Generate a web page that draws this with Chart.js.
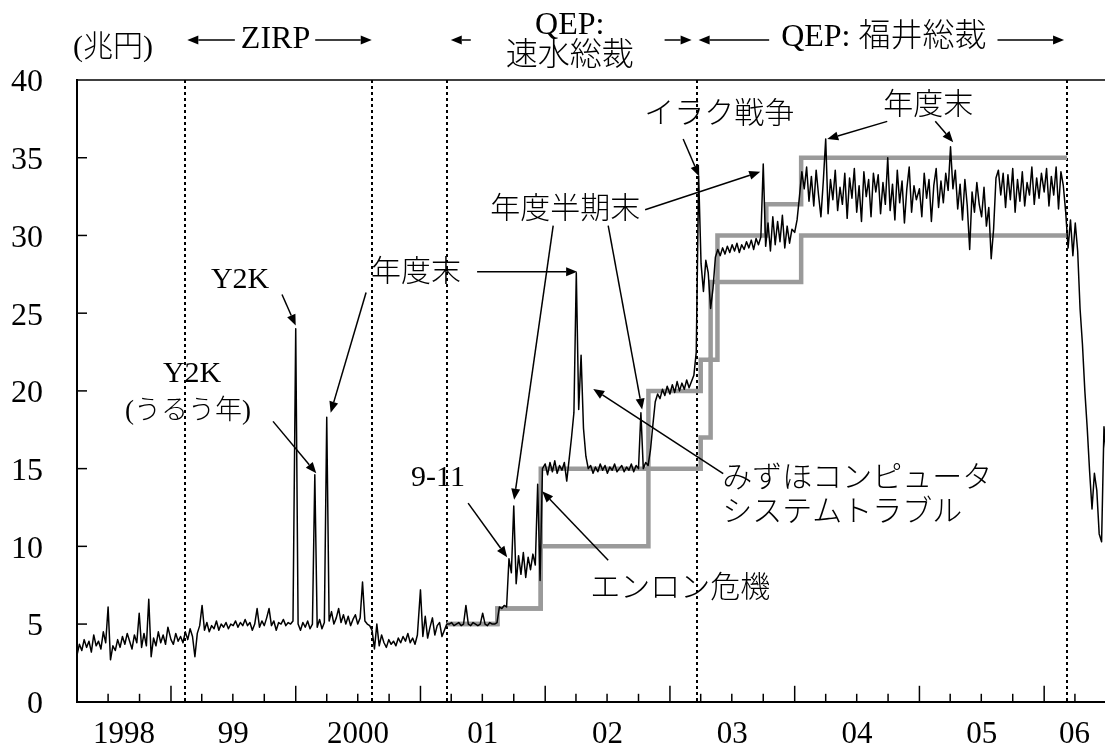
<!DOCTYPE html>
<html>
<head>
<meta charset="utf-8">
<script src="https://cdn.jsdelivr.net/npm/chart.js@4.4.1/dist/chart.umd.min.js"></script>
<style>
  body { margin: 0; background: #fff; }
</style>
</head>
<body>
<canvas id="grafico" width="1105" height="755"></canvas>
<script>
// 日銀当座預金残高（兆円）, valores semanales
// 1998 empieza el 1 de abril, los demás años el 1 de enero
const bal1998 = [3.0, 3.7, 3.3, 4.0, 3.5, 3.9, 3.2, 4.3, 3.6, 3.9, 3.4, 4.5, 3.8, 6.1, 2.7, 3.6, 3.3, 4.0, 3.5, 4.2,
  3.7, 4.4, 3.9, 3.4, 4.3, 3.8, 5.7, 3.5, 4.4, 3.6, 6.6, 2.9, 4.1, 3.6, 4.5, 3.8, 4.3, 3.7, 4.8];
const bal1999 = [4.0, 3.7, 4.4, 3.9, 4.2, 3.8, 4.5, 4.0, 4.7, 4.2, 2.9, 4.4, 4.9, 6.2, 4.6, 5.1, 4.5, 4.9, 4.7, 5.2,
  4.6, 5.0, 4.8, 5.1, 4.7, 5.0, 4.9, 5.2, 4.8, 5.1, 4.9, 5.3, 4.9, 5.1, 4.6, 5.0, 6.0, 4.8, 5.2, 4.9,
  5.4, 6.0, 4.9, 5.2, 4.6, 5.1, 5.0, 5.3, 4.9, 5.1, 5.0, 5.2];
const bal2000 = [24.0, 5.0, 4.6, 5.1, 4.8, 5.2, 4.7, 5.0, 14.6, 4.8, 5.3, 4.7, 5.1, 18.3, 5.2, 5.8, 5.0, 5.4, 6.0, 5.1,
  5.6, 5.0, 5.5, 4.9, 5.3, 5.6, 5.0, 5.4, 7.7, 5.2, 5.0, 4.9, 4.6, 3.4, 5.0, 3.6, 4.3, 3.8, 3.5, 4.0,
  3.7, 3.9, 3.6, 4.1, 3.8, 4.2, 3.9, 4.4, 3.8, 4.1, 3.7, 4.3];
const bal2001 = [7.2, 4.2, 5.5, 4.1, 4.8, 5.4, 4.3, 4.9, 5.1, 4.2, 4.6, 5.0, 5.0, 5.1, 4.9, 5.0, 5.1, 4.9, 5.0, 6.2,
  5.0, 4.9, 5.1, 5.0, 4.9, 5.0, 5.7, 5.0, 4.9, 5.1, 5.0, 5.0, 5.1, 6.1, 6.0, 6.2, 6.1, 9.2, 8.3, 12.6,
  7.6, 9.4, 8.2, 9.6, 8.0, 9.3, 8.5, 9.5, 8.8, 14.0, 7.8, 15.0];
const bal2002 = [15.3, 14.6, 15.4, 14.8, 15.5, 14.7, 15.2, 14.9, 15.4, 14.2, 15.6, 17.0, 18.6, 27.6, 18.8, 22.3, 17.6, 15.8, 15.0, 15.2,
  14.7, 15.1, 14.8, 15.3, 14.9, 15.2, 14.7, 15.1, 14.9, 15.3, 14.8, 15.0, 15.2, 14.8, 15.1, 14.9, 15.3, 14.8, 15.2, 15.0,
  18.6, 15.0, 15.4, 15.2, 16.2, 17.8, 19.3, 19.8, 19.5, 20.1, 19.7, 20.3];
const bal2003 = [19.8, 20.4, 19.9, 20.6, 20.0, 20.5, 20.1, 20.7, 20.2, 20.6, 21.0, 22.5, 33.8, 28.2, 26.4, 28.4, 27.6, 25.3, 26.6, 28.6,
  29.1, 28.7, 29.2, 28.8, 29.3, 28.9, 29.4, 29.0, 29.5, 28.9, 29.4, 29.1, 29.6, 29.2, 29.7, 29.1, 29.8, 29.4, 29.9, 34.6,
  29.3, 30.8, 29.0, 31.2, 29.4, 30.9, 29.6, 31.3, 29.2, 30.6, 29.5, 30.4];
const bal2004 = [30.2, 31.0, 32.5, 34.1, 33.0, 34.4, 32.2, 33.8, 31.9, 34.2, 32.6, 31.2, 33.5, 36.2, 31.4, 33.6, 32.3, 34.2, 31.6, 33.1,
  32.0, 34.0, 31.1, 33.7, 32.4, 34.3, 31.5, 33.2, 30.9, 34.1, 32.5, 33.6, 31.2, 34.0, 32.8, 33.9, 31.4, 33.4, 32.0, 35.0,
  31.6, 33.3, 31.0, 34.2, 32.1, 33.5, 30.8, 33.0, 34.4, 31.5, 33.2, 32.3];
const bal2005 = [33.0, 31.2, 34.0, 32.4, 33.6, 30.9, 33.2, 34.3, 31.8, 33.5, 32.1, 34.0, 32.9, 35.7, 33.0, 34.2, 31.7, 33.3, 31.0, 33.6,
  31.9, 29.1, 32.8, 31.5, 33.4, 32.0, 31.2, 33.1, 30.6, 31.8, 28.5, 30.4, 33.7, 34.2, 32.6, 34.0, 31.8, 33.9, 32.3, 34.3,
  31.5, 33.6, 32.2, 34.1, 31.9, 33.4, 32.6, 34.4, 32.0, 33.7, 32.4, 34.0];
const bal2006 = [32.8, 34.3, 31.9, 33.8, 32.6, 34.4, 31.7, 34.1, 33.2, 31.5, 29.2, 31.0, 28.7, 30.8, 29.0, 25.3, 23.0, 20.0, 17.6, 14.8,
  12.4, 14.7, 13.6, 10.8, 10.3, 17.7, 15.8];

// 当座預金残高目標（上限・下限）
const targetDates = ['2001-03-19', '2001-08-14', '2001-12-19', '2002-10-30', '2003-04-01', '2003-04-30',
  '2003-05-20', '2003-10-10', '2004-01-20', '2006-03-09'];
const targetLow = [5, 6, 10, 15, 17, 22, 27, 27, 30, 30];
const targetHigh = [5, 6, 15, 20, 22, 27, 30, 32, 35, 35];

// cambios de política (líneas punteadas)
const policyDates = ['1999-02-12', '2000-08-11', '2001-03-19', '2003-03-20', '2006-03-09'];

const yearLabels = ['1998', '99', '2000', '01', '02', '03', '04', '05', '06'];
const labelYears = [1998, 1999, 2000, 2001, 2002, 2003, 2004, 2005, 2006];
const yTicks = [0, 5, 10, 15, 20, 25, 30, 35, 40];

const FUENTE = "'Liberation Serif', 'Noto Sans CJK JP', serif";

function toYear(s) {
  const [y, m, d] = s.split('-').map(Number);
  const ini = Date.UTC(y, 0, 1);
  const largo = (Date.UTC(y + 1, 0, 1) - ini) / 864e5;
  return y + (Date.UTC(y, m - 1, d) - ini) / 864e5 / largo;
}

function semanal(year, startDay, values) {
  const largo = year % 4 === 0 ? 366 : 365;
  return values.map((v, i) => ({ x: year + (startDay + 7 * i) / largo, y: v }));
}

const balance = [].concat(
  semanal(1998, 90, bal1998), semanal(1999, 0, bal1999), semanal(2000, 0, bal2000),
  semanal(2001, 0, bal2001), semanal(2002, 0, bal2002), semanal(2003, 0, bal2003),
  semanal(2004, 0, bal2004), semanal(2005, 0, bal2005), semanal(2006, 0, bal2006)
);
const lowPts = targetDates.map((d, i) => ({ x: toYear(d), y: targetLow[i] }));
const highPts = targetDates.map((d, i) => ({ x: toYear(d), y: targetHigh[i] }));

// anotaciones en coordenadas de datos
const notas = [
  { t: 'Y2K', x: 1999.554, y: 27.15 },
  { t: 'Y2K', x: 1999.169, y: 21.08 },
  { t: '(うるう年)', x: 1999.137, y: 18.67, size: 27 },
  { t: '年度末', x: 2000.965, y: 27.6 },
  { t: '年度半期末', x: 2002.160, y: 31.65 },
  { t: 'イラク戦争', x: 2003.395, y: 37.72 },
  { t: '年度末', x: 2005.071, y: 38.29 },
  { t: '9-11', x: 2001.141, y: 14.37 },
  { t: 'エンロン危機', x: 2003.082, y: 7.28 },
  { t: 'みずほコンピュータ', x: 2003.419, y: 14.3, align: 'left' },
  { t: 'システムトラブル', x: 2003.419, y: 12.15, align: 'left' }
];
const flechas = [
  [1999.890, 26.2, 2000.0, 24.2],
  [1999.818, 18.04, 2000.165, 14.7],
  [2000.564, 26.33, 2000.28, 18.6],
  [2001.454, 27.66, 2002.256, 27.66],
  [2002.064, 30.63, 2001.751, 13.0],
  [2002.505, 30.63, 2002.777, 18.8],
  [2002.801, 31.65, 2003.724, 34.1],
  [2003.106, 36.2, 2003.235, 33.8],
  [2004.742, 37.34, 2004.261, 36.2],
  [2005.127, 37.34, 2005.271, 36.0],
  [2001.382, 12.78, 2001.695, 9.3],
  [2002.505, 9.11, 2001.976, 13.54],
  [2003.427, 14.68, 2002.385, 20.13]
];

function flecha(ctx, x1, y1, x2, y2) {
  const a = Math.atan2(y2 - y1, x2 - x1);
  const L = 11, W = 4.5;
  const bx = x2 - L * Math.cos(a), by = y2 - L * Math.sin(a);
  ctx.beginPath();
  ctx.moveTo(x1, y1);
  ctx.lineTo(bx, by);
  ctx.stroke();
  ctx.beginPath();
  ctx.moveTo(x2, y2);
  ctx.lineTo(bx + W * Math.sin(a), by - W * Math.cos(a));
  ctx.lineTo(bx - W * Math.sin(a), by + W * Math.cos(a));
  ctx.closePath();
  ctx.fill();
}

function linea(ctx, x1, y1, x2, y2) {
  ctx.beginPath();
  ctx.moveTo(x1, y1);
  ctx.lineTo(x2, y2);
  ctx.stroke();
}

const decoraciones = {
  id: 'decoraciones',
  beforeDatasetsDraw(chart) {
    const { ctx, chartArea: a, scales: { x } } = chart;
    ctx.save();
    ctx.strokeStyle = '#000';
    ctx.lineWidth = 2;
    ctx.setLineDash([3, 3]);
    policyDates.forEach(d => {
      const px = Math.round(x.getPixelForValue(toYear(d)));
      linea(ctx, px, a.top, px, a.bottom);
    });
    ctx.restore();
  },
  afterDraw(chart) {
    const { ctx, chartArea: a, scales: { x, y } } = chart;
    ctx.save();
    ctx.strokeStyle = '#000';
    ctx.fillStyle = '#000';

    // marco superior
    ctx.lineWidth = 1.5;
    linea(ctx, a.left, a.top, a.right, a.top);

    // marcas del eje X (trimestres, años más largos)
    labelYears.forEach(yr => {
      ['01-01', '04-01', '07-01', '10-01'].forEach((md, q) => {
        const v = toYear(yr + '-' + md);
        if (v <= x.min + 0.01 || v > x.max) return;
        const px = x.getPixelForValue(v);
        linea(ctx, px, a.bottom, px, a.bottom - (q === 0 ? 16 : 8));
      });
    });
    // marcas del eje Y hacia dentro
    yTicks.forEach(v => {
      if (v === 0 || v === 40) return;
      const py = y.getPixelForValue(v);
      linea(ctx, a.left, py, a.left + 10, py);
    });

    // textos dentro del gráfico
    ctx.textBaseline = 'middle';
    notas.forEach(n => {
      ctx.font = '300 ' + (n.size || 30) + 'px ' + FUENTE;
      ctx.textAlign = n.align || 'center';
      ctx.fillText(n.t, x.getPixelForValue(n.x), y.getPixelForValue(n.y));
    });
    ctx.lineWidth = 1.5;
    flechas.forEach(f => {
      flecha(ctx, x.getPixelForValue(f[0]), y.getPixelForValue(f[1]),
        x.getPixelForValue(f[2]), y.getPixelForValue(f[3]));
    });

    // cabecera
    const p = policyDates.map(d => x.getPixelForValue(toYear(d)));
    const fila = a.top - 40;
    ctx.font = '300 30px ' + FUENTE;
    ctx.textAlign = 'center';
    ctx.fillText('(兆円)', a.left + 36, a.top - 32);

    ctx.font = '300 32px ' + FUENTE;
    let cx = (p[0] + p[1]) / 2 - 3;
    let w = ctx.measureText('ZIRP').width;
    ctx.fillText('ZIRP', cx, fila);
    flecha(ctx, cx - w / 2 - 6, fila, p[0] + 2, fila);
    flecha(ctx, cx + w / 2 + 5, fila, p[1], fila);

    cx = (p[2] + p[3]) / 2 - 2;
    ctx.fillText('QEP:', cx, a.top - 54);
    ctx.fillText('速水総裁', cx, a.top - 23);
    flecha(ctx, p[2] + 24, fila, p[2] + 4, fila);
    flecha(ctx, p[3] - 32, fila, p[3] - 5, fila);

    cx = (p[3] + p[4]) / 2 + 2;
    const tf = 'QEP: 福井総裁';
    w = ctx.measureText(tf).width;
    ctx.fillText(tf, cx, a.top - 42);
    flecha(ctx, cx - w / 2 - 12, fila, p[3] + 2, fila);
    flecha(ctx, cx + w / 2 + 11, fila, p[4] - 3, fila);

    ctx.restore();
  }
};

const ctx = document.getElementById('grafico').getContext('2d');
new Chart(ctx, {
  type: 'line',
  data: {
    datasets: [
      {
        label: '当座預金残高',
        data: balance,
        borderColor: '#000',
        borderWidth: 1.5,
        borderJoinStyle: 'round',
        pointRadius: 0,
        tension: 0
      },
      {
        label: '目標上限',
        data: highPts,
        borderColor: '#9a9a9a',
        borderWidth: 4.5,
        stepped: 'before',
        pointRadius: 0
      },
      {
        label: '目標下限',
        data: lowPts,
        borderColor: '#9a9a9a',
        borderWidth: 4.5,
        stepped: 'before',
        pointRadius: 0
      }
    ]
  },
  options: {
    responsive: false,
    animation: false,
    devicePixelRatio: 1,
    layout: { padding: { top: 80, right: 0, left: 0, bottom: 0 } },
    plugins: { legend: { display: false }, tooltip: { enabled: false } },
    scales: {
      x: {
        type: 'linear',
        bounds: 'data',
        min: toYear('1998-04-01'),
        max: toYear('2006-06-28'),
        grid: { display: false, drawTicks: false },
        border: { display: true, color: '#000', width: 2 },
        afterBuildTicks: scale => {
          scale.ticks = labelYears.map(yr => ({
            value: (Math.max(yr, scale.min) + Math.min(yr + 1, scale.max)) / 2
          }));
        },
        afterFit: scale => { scale.height = 43; },
        ticks: {
          autoSkip: false,
          maxRotation: 0,
          padding: 14,
          color: '#000',
          font: { family: FUENTE, size: 31 },
          callback: (v, i) => yearLabels[i]
        }
      },
      y: {
        min: 0,
        max: 40,
        grid: { display: false, drawTicks: false },
        border: { display: true, color: '#000', width: 2 },
        afterFit: scale => { scale.width = 77; },
        ticks: {
          stepSize: 5,
          padding: 34,
          labelOffset: 3,
          color: '#000',
          font: { family: FUENTE, size: 32 }
        }
      }
    }
  },
  plugins: [decoraciones]
});
</script>
</body>
</html>
